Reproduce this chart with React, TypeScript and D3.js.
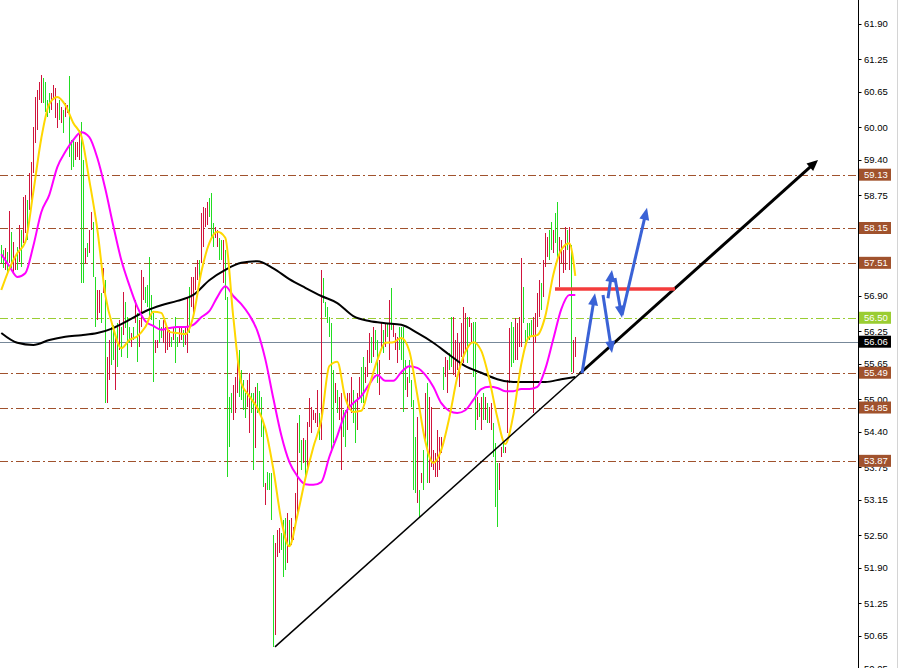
import React from 'react';
import * as d3 from 'd3';

const W = 900;
const H = 668;

// ---------- bar data (288 bars) ----------
const highs: number[] = [
  57.84, 57.75, 57.78, 57.71, 58.46, 58.08, 57.89, 57.62, 57.80, 58.21,
  58.11, 58.72, 58.76, 58.67, 59.16, 59.36, 60.01, 60.56, 60.69, 60.83,
  60.96, 60.91, 60.83, 60.50, 60.63, 60.63, 60.78, 60.72, 60.45, 60.50,
  60.37, 60.32, 60.45, 60.41, 60.94, 59.77, 59.77, 59.73, 59.73, 59.95,
  60.10, 59.40, 57.78, 57.87, 58.11, 58.44, 58.26, 57.25, 57.01, 57.01,
  56.96, 57.41, 57.19, 55.78, 56.09, 56.33, 56.37, 56.15, 56.40, 56.46,
  56.33, 56.97, 56.79, 56.51, 56.33, 56.22, 56.33, 56.83, 56.59, 56.46,
  57.38, 57.25, 57.07, 57.10, 57.62, 56.92, 56.59, 56.09, 56.09, 56.46,
  56.33, 56.46, 56.33, 56.27, 56.27, 56.15, 56.33, 56.51, 56.15, 56.33,
  56.33, 56.27, 56.33, 56.88, 57.07, 57.25, 57.25, 57.43, 57.56, 57.56,
  58.42, 58.53, 58.52, 58.63, 58.70, 58.79, 58.24, 58.17, 58.11, 57.97,
  57.93, 57.93, 57.75, 56.88, 55.04, 55.12, 55.26, 55.41, 55.85, 55.91,
  55.54, 55.36, 55.12, 55.36, 55.48, 55.12, 55.12, 55.23, 55.30, 55.15,
  55.04, 54.57, 53.46, 53.67, 53.65, 53.65, 52.51, 52.36, 52.60, 52.64,
  52.54, 52.78, 52.82, 52.91, 52.78, 52.82, 52.65, 53.28, 54.57, 54.71,
  54.25, 54.29, 54.25, 54.58, 55.02, 54.86, 54.80, 54.75, 55.17, 54.75,
  57.38, 57.23, 56.79, 56.70, 56.51, 56.40, 55.54, 55.30, 55.17, 55.04,
  55.12, 54.80, 54.80, 55.12, 55.12, 55.41, 55.17, 54.99, 55.12, 55.41,
  55.59, 55.78, 55.59, 55.91, 56.22, 56.15, 56.33, 56.27, 56.09, 55.72,
  56.40, 56.27, 56.40, 56.40, 56.83, 57.05, 56.40, 56.22, 56.15, 56.33,
  56.33, 56.33, 55.72, 55.41, 55.72, 55.36, 54.99, 54.31, 54.68, 53.33,
  53.65, 54.07, 55.12, 55.30, 55.04, 54.86, 54.07, 54.01, 54.44, 54.31,
  54.31, 55.59, 55.78, 55.72, 55.85, 56.51, 56.51, 56.09, 56.22, 56.04,
  56.40, 56.70, 56.59, 56.51, 56.51, 56.40, 56.42, 56.42, 55.04, 54.93,
  55.04, 55.12, 55.04, 54.93, 54.86, 54.93, 54.57, 54.20, 53.83, 53.83,
  54.12, 54.20, 54.12, 55.36, 56.31, 56.42, 56.33, 56.49, 56.40, 56.51,
  57.60, 57.07, 56.27, 56.40, 56.40, 56.46, 56.51, 56.59, 56.96, 57.19,
  57.14, 57.56, 58.06, 57.99, 58.11, 58.26, 58.11, 58.42, 58.63, 57.99,
  57.93, 57.75, 58.17, 58.11, 58.17, 57.84, 56.09, 56.15,
];

const lows: number[] = [
  57.50, 57.41, 57.38, 57.34, 57.50, 57.41, 57.34, 57.38, 57.38, 57.52,
  57.43, 57.87, 58.06, 57.93, 58.48, 58.67, 59.16, 59.71, 59.95, 60.50,
  60.45, 60.45, 60.28, 60.19, 60.26, 60.32, 60.50, 60.17, 59.99, 60.13,
  60.08, 59.90, 60.19, 60.26, 59.46, 59.22, 59.27, 59.40, 59.46, 59.40,
  57.14, 57.14, 57.50, 57.62, 57.69, 58.11, 57.25, 56.33, 56.46, 56.59,
  56.40, 56.96, 54.93, 54.93, 55.36, 55.63, 55.72, 55.17, 55.59, 55.91,
  55.78, 56.18, 56.31, 55.76, 56.04, 55.96, 56.09, 56.40, 55.69, 55.96,
  56.33, 56.83, 56.77, 56.70, 56.51, 56.46, 55.32, 55.85, 55.94, 56.04,
  56.13, 56.04, 55.85, 55.91, 55.96, 55.96, 56.09, 55.67, 55.96, 56.04,
  56.09, 55.96, 56.00, 55.85, 56.22, 56.70, 56.51, 57.01, 57.19, 57.14,
  57.50, 57.80, 58.17, 58.21, 58.35, 57.99, 57.80, 57.97, 57.80, 57.56,
  57.56, 57.14, 56.83, 53.57, 54.12, 54.75, 54.62, 54.75, 55.12, 55.04,
  54.99, 54.80, 54.66, 54.86, 54.38, 54.75, 53.70, 54.11, 54.75, 54.75,
  54.31, 53.39, 53.06, 53.33, 53.33, 52.78, 50.45, 50.67, 52.10, 52.17,
  52.23, 51.73, 51.86, 51.99, 52.29, 52.32, 52.41, 52.73, 52.84, 54.01,
  53.70, 53.83, 53.52, 53.70, 54.49, 54.38, 54.62, 54.57, 54.49, 54.25,
  54.25, 56.77, 56.51, 56.40, 56.15, 54.01, 54.20, 54.93, 54.75, 54.62,
  53.70, 54.31, 54.12, 54.44, 54.80, 54.75, 54.57, 54.20, 54.44, 55.04,
  54.93, 54.93, 55.30, 55.41, 55.67, 55.67, 55.78, 55.91, 55.30, 55.08,
  55.91, 55.85, 55.96, 56.15, 55.72, 56.27, 56.15, 55.91, 55.67, 55.91,
  55.72, 54.77, 55.17, 55.04, 55.30, 54.86, 53.33, 53.28, 53.09, 52.84,
  53.46, 53.33, 54.20, 53.46, 53.46, 53.76, 53.70, 53.57, 53.57, 53.70,
  54.01, 55.17, 55.41, 55.12, 55.54, 55.59, 55.45, 55.41, 55.54, 55.23,
  55.78, 55.67, 55.91, 55.67, 56.33, 56.04, 55.41, 54.44, 54.62, 54.68,
  54.44, 54.62, 54.62, 54.57, 54.57, 54.44, 53.94, 53.02, 52.65, 53.33,
  53.94, 54.01, 54.01, 54.38, 55.30, 55.59, 55.67, 55.72, 55.72, 55.96,
  55.96, 56.40, 56.04, 56.09, 56.09, 56.15, 54.75, 56.04, 56.33, 56.51,
  56.64, 56.88, 57.43, 57.62, 57.56, 57.75, 57.69, 57.87, 57.56, 57.07,
  57.50, 57.32, 57.38, 57.75, 57.38, 55.50, 55.48, 55.78,
];

// G = up bar, R = down bar
const barDirs: string = [
  'GGRGRGRRGR', 'GRRGRRRRRR', 'RGGGGRRRRG', 'RGRRGGGRRR', 'GGRGRRGGRR',
  'GRGRRGGRGR', 'GRGGGRGRGR', 'RRGGGGGRRG', 'GRRRRGRGGR', 'RGRRGRRRRG',
  'RRRRGGGRRG', 'GRGGGGRRRG', 'GGGRRGGRGG', 'GGRGGGGRRR', 'GGGRGRRRRG',
  'GRGRRRRRRG', 'RGGGGGGRGR', 'RGGRRRGGRR', 'GGRRRGRGGR', 'RGRGRGRRRG',
  'GGGRGGGGRG', 'RGRGRRRRRR', 'RGRRGGRRRR', 'RRRGRRGGRG', 'RGRGRRGGGR',
  'RGRRRGGRRR', 'RGGGGGRRRR', 'GRRRGGRGGR', 'RRRGRGRR',
].join('');

// ---------- moving averages ----------
// fast (yellow) and middle (magenta): sampled every 4 bars, last value at final bar
const maFast: number[] = [
  57.01, 57.40, 57.69, 57.89, 58.81, 59.80, 60.43, 60.56, 60.41, 60.08,
  59.84, 59.03, 58.13, 56.92, 56.31, 55.94, 56.09, 56.16, 56.33, 56.61,
  56.59, 56.24, 56.22, 56.20, 56.53, 57.34, 57.87, 58.08, 57.97, 56.51,
  55.30, 55.06, 54.84, 54.47, 53.72, 52.78, 52.30, 52.86, 53.54, 54.12,
  54.62, 55.61, 55.69, 55.02, 54.77, 54.79, 55.25, 55.72, 56.04, 56.05,
  56.13, 55.89, 55.08, 54.23, 53.83, 54.07, 54.66, 55.41, 55.87, 56.05,
  55.89, 55.37, 54.67, 54.18, 54.71, 55.65, 56.15, 56.18, 56.53, 57.29,
  57.75, 57.87, 57.27,
];
const maMid: number[] = [
  57.67, 57.45, 57.25, 57.32, 57.82, 58.44, 58.76, 59.27, 59.55, 59.77,
  59.91, 59.82, 59.44, 58.87, 58.19, 57.56, 57.10, 56.70, 56.44, 56.35,
  56.28, 56.31, 56.33, 56.33, 56.37, 56.51, 56.62, 56.88, 57.08, 56.90,
  56.75, 56.55, 56.26, 55.74, 55.02, 54.34, 53.85, 53.59, 53.44, 53.43,
  53.48, 53.94, 54.33, 54.75, 54.93, 55.06, 55.28, 55.45, 55.34, 55.34,
  55.50, 55.61, 55.58, 55.45, 55.23, 54.93, 54.79, 54.75, 54.80, 54.99,
  55.19, 55.23, 55.21, 55.15, 55.15, 55.19, 55.19, 55.23, 55.56, 56.11,
  56.66, 56.92, 56.92,
];
// slow (black): sampled every 8 bars, last value at final bar
const maSlow: number[] = [
  56.22, 56.04, 56.00, 56.09, 56.15, 56.18, 56.22, 56.31, 56.46, 56.62,
  56.73, 56.81, 56.92, 57.19, 57.38, 57.51, 57.54, 57.41, 57.21, 57.05,
  56.90, 56.77, 56.53, 56.44, 56.40, 56.37, 56.22, 56.04, 55.82, 55.61,
  55.49, 55.37, 55.32, 55.32, 55.32, 55.37, 55.41,
];

// ---------- horizontal levels ----------
const brownLevels: number[] = [59.13, 58.15, 57.51, 55.49, 54.85, 53.87];
const greenLevel = 56.5;
const priceLevel = 56.06;

const tickValues: number[] = [
  61.9, 61.25, 60.65, 60.0, 59.4, 58.75, 58.15, 57.5, 56.9, 56.25, 55.65,
  55.0, 54.4, 53.75, 53.15, 52.5, 51.9, 51.25, 50.65, 50.05,
];

// ---------- annotations (bar index, price) ----------
const trendStart = { i: 136.85, p: 50.45 };
const trendEnd = { i: 408.35, p: 59.4 };
const trendThickFrom = 289.3; // index where the line becomes bold
const resistance = { i0: 276.85, i1: 336.85, p: 57.03 };
const blueArrows = [
  { i0: 290.35, p0: 55.48, i1: 296.85, p1: 56.95 },
  { i0: 300.85, p0: 56.92, i1: 305.35, p1: 55.85 },
  { i0: 303.35, p0: 56.86, i1: 305.35, p1: 57.38 },
  { i0: 306.85, p0: 57.23, i1: 310.35, p1: 56.5 },
  { i0: 310.35, p0: 56.55, i1: 322.85, p1: 58.52 },
];

const FONT = '"Liberation Sans", Arial, sans-serif';
const BROWN = '#a0522d';

function arrowPath(x0: number, y0: number, x1: number, y1: number, len: number, half: number) {
  const dx = x1 - x0;
  const dy = y1 - y0;
  const L = Math.hypot(dx, dy);
  const ux = dx / L;
  const uy = dy / L;
  const bx = x1 - ux * len;
  const by = y1 - uy * len;
  const px = -uy;
  const py = ux;
  return {
    shaft: { x0, y0, x1: bx + ux * 1, y1: by + uy * 1 },
    head: `M${x1},${y1}L${bx + px * half},${by + py * half}L${bx - px * half},${by - py * half}Z`,
  };
}

export default function App() {
  const n = highs.length;
  const x = d3.scaleLinear().domain([0, 287]).range([1.3, 575.3]);
  const y = d3.scaleLinear().domain([50.062, 62.341]).range([H, 0]);

  const fastIdx = d3.range(0, 288, 4).concat([287]);
  const slowIdx = d3.range(0, 288, 8).concat([287]);

  const line = d3
    .line<[number, number]>()
    .x((d) => x(d[0]))
    .y((d) => y(d[1]))
    .curve(d3.curveMonotoneX);

  const fastPts = maFast.map((v, j) => [fastIdx[j], v] as [number, number]);
  const midPts = maMid.map((v, j) => [fastIdx[j], v] as [number, number]);
  const slowPts = maSlow.map((v, j) => [slowIdx[j], v] as [number, number]);

  const axisX = 858.5;

  // trend line
  const tx0 = x(trendStart.i);
  const ty0 = y(trendStart.p);
  const tx1 = x(trendEnd.i);
  const ty1 = y(trendEnd.p);
  const tFrac = (trendThickFrom - trendStart.i) / (trendEnd.i - trendStart.i);
  const tmx = tx0 + (tx1 - tx0) * tFrac;
  const tmy = ty0 + (ty1 - ty0) * tFrac;
  const bigArrow = arrowPath(tmx, tmy, tx1, ty1, 11, 5);

  const levelLabel = (v: number, fill: string, key: string) => (
    <g key={key}>
      <rect x={859} y={y(v) - 6} width={32} height={12} fill={fill} />
      <text x={864} y={y(v)} dy="0.36em" fontSize={9.5} fill="#fff" fontFamily={FONT}>
        {v.toFixed(2)}
      </text>
    </g>
  );

  return (
    <svg
      width={W}
      height={H}
      style={{ position: 'absolute', left: 0, top: 0, display: 'block', background: '#fff' }}
    >
      <rect x={0} y={0} width={W} height={H} fill="#fff" />

      {/* horizontal levels */}
      {brownLevels.map((v) => (
        <line
          key={'lv' + v}
          x1={0}
          x2={axisX}
          y1={Math.round(y(v)) + 0.5}
          y2={Math.round(y(v)) + 0.5}
          stroke={BROWN}
          strokeWidth={1}
          strokeDasharray="8,3,2,3"
        />
      ))}
      <line
        x1={0}
        x2={axisX}
        y1={Math.round(y(greenLevel)) + 0.5}
        y2={Math.round(y(greenLevel)) + 0.5}
        stroke="#9acd32"
        strokeWidth={1}
        strokeDasharray="8,3,2,3"
      />
      <line
        x1={0}
        x2={axisX}
        y1={Math.round(y(priceLevel)) + 0.5}
        y2={Math.round(y(priceLevel)) + 0.5}
        stroke="#778899"
        strokeWidth={1}
      />

      {/* bars */}
      <g shapeRendering="crispEdges">
        {d3.range(n).map((i) => {
          const bx = Math.round(x(i)) + 0.5;
          return (
            <line
              key={'b' + i}
              x1={bx}
              x2={bx}
              y1={Math.round(y(highs[i]))}
              y2={Math.round(y(lows[i]))}
              stroke={barDirs[i] === 'G' ? '#22dd22' : '#d0143c'}
              strokeWidth={1}
            />
          );
        })}
      </g>

      {/* moving averages */}
      <path d={line(slowPts) || ''} fill="none" stroke="#000" strokeWidth={2} />
      <path d={line(midPts) || ''} fill="none" stroke="#ff00ff" strokeWidth={2} />
      <path d={line(fastPts) || ''} fill="none" stroke="#ffd700" strokeWidth={2} />

      {/* trend line */}
      <line x1={tx0} y1={ty0} x2={tmx} y2={tmy} stroke="#000" strokeWidth={1.5} />
      <line
        x1={bigArrow.shaft.x0}
        y1={bigArrow.shaft.y0}
        x2={bigArrow.shaft.x1}
        y2={bigArrow.shaft.y1}
        stroke="#000"
        strokeWidth={3}
      />
      <path d={bigArrow.head} fill="#000" />

      {/* resistance */}
      <line
        x1={x(resistance.i0)}
        x2={x(resistance.i1)}
        y1={y(resistance.p)}
        y2={y(resistance.p)}
        stroke="#f43c3c"
        strokeWidth={3.5}
      />

      {/* blue projection arrows */}
      {blueArrows.map((a, j) => {
        const ap = arrowPath(x(a.i0), y(a.p0), x(a.i1), y(a.p1), 12, 5);
        return (
          <g key={'ba' + j}>
            <line
              x1={ap.shaft.x0}
              y1={ap.shaft.y0}
              x2={ap.shaft.x1}
              y2={ap.shaft.y1}
              stroke="#3a62d6"
              strokeWidth={3}
            />
            <path d={ap.head} fill="#3a62d6" />
          </g>
        );
      })}

      {/* right price axis */}
      <rect x={axisX + 0.5} y={0} width={W - axisX} height={H} fill="#fff" />
      <line x1={axisX} x2={axisX} y1={0} y2={H} stroke="#000" strokeWidth={1} />
      <line x1={897.5} x2={897.5} y1={0} y2={H} stroke="#d4d4d4" strokeWidth={1} />
      {tickValues.map((v) => (
        <g key={'t' + v}>
          <line
            x1={axisX}
            x2={axisX + 3}
            y1={Math.round(y(v)) + 0.5}
            y2={Math.round(y(v)) + 0.5}
            stroke="#000"
          />
          <text x={864} y={y(v)} dy="0.36em" fontSize={9.5} fill="#000" fontFamily={FONT}>
            {v.toFixed(2)}
          </text>
        </g>
      ))}
      {brownLevels.map((v) => levelLabel(v, BROWN, 'll' + v))}
      {levelLabel(greenLevel, '#9acd32', 'lg')}
      {levelLabel(priceLevel, '#000', 'lp')}
    </svg>
  );
}
